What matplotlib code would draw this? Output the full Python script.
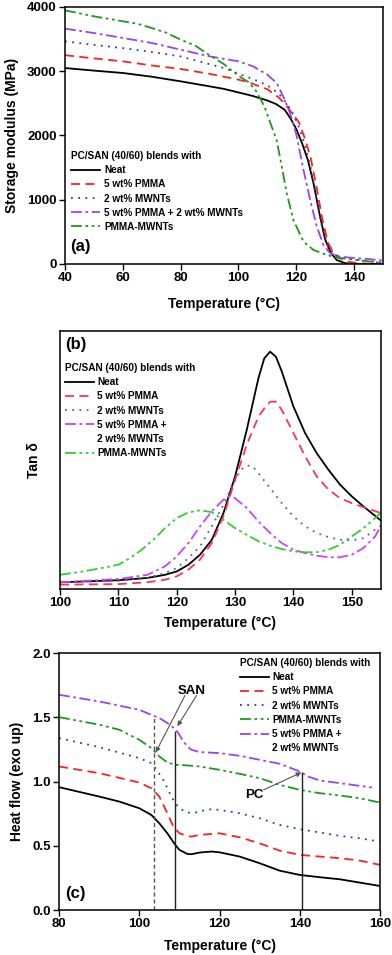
import matplotlib
matplotlib.use("Agg")
import matplotlib.pyplot as plt
from matplotlib.lines import Line2D

plt.rcParams['font.family'] = ['Liberation Sans', 'DejaVu Sans']
plt.rcParams['font.weight'] = 'bold'
plt.rcParams['axes.labelweight'] = 'bold'

# ---------------- Panel (a): storage modulus ----------------
a_neat_T = [40, 50, 60, 70, 80, 90, 95, 100, 105, 107.5, 110, 113, 116, 118, 120, 122, 124, 126, 128, 130, 132, 134, 137, 140, 145, 150]
a_neat = [3050, 3010, 2973, 2915, 2843, 2765, 2725, 2670, 2615, 2579, 2545, 2490, 2400, 2267, 2100, 1880, 1620, 1250, 790, 380, 170, 62, 12, 0, 0, 0]
a_pmma_T = [40, 50, 60, 70, 80, 90, 100, 103.5, 110, 114, 117, 119, 121, 123, 125, 127, 129, 131, 133, 135, 138, 141, 145, 150]
a_pmma = [3250, 3200, 3154, 3090, 3035, 2960, 2869, 2828, 2720, 2590, 2440, 2320, 2200, 1950, 1650, 1200, 700, 330, 160, 90, 35, 15, 5, 0]
a_mwnt_T = [40, 50, 60, 70, 80, 90, 95, 98, 100, 105, 110, 114, 117, 119, 121, 123, 125, 127, 129, 131, 133, 136, 140, 145, 150]
a_mwnt = [3466, 3410, 3360, 3300, 3230, 3110, 3050, 3000, 2960, 2880, 2780, 2650, 2480, 2330, 2120, 1850, 1500, 1000, 560, 280, 150, 100, 70, 45, 20]
a_both_T = [40, 50, 60, 70, 80, 90, 100, 105, 110, 113.3, 116, 118, 120, 122.5, 124.8, 127.1, 129.4, 131.7, 135, 140, 145, 150]
a_both = [3663, 3595, 3518, 3440, 3336, 3232, 3154, 3077, 2947, 2812, 2558, 2330, 2020, 1463, 996, 581, 296, 170, 115, 93, 78, 52]
a_pm_T = [40, 50, 60, 65, 70, 75, 80, 85, 90, 95, 98, 101, 103.5, 106, 107.5, 109, 111, 113.2, 115, 116.7, 119, 122.5, 126, 130.6, 135, 140, 145, 150]
a_pm = [3948, 3855, 3777, 3740, 3673, 3600, 3492, 3400, 3250, 3110, 3000, 2900, 2830, 2700, 2579, 2450, 2200, 1930, 1515, 1100, 685, 347, 218, 140, 93, 67, 42, 16]

# ---------------- Panel (b): tan delta ----------------
b_T = [100, 110, 115, 118, 120, 122, 124, 126, 128, 130, 132, 134, 135, 136, 137, 138, 140, 142, 144, 146, 148, 150, 152, 155]
b_neat = [0.026, 0.034, 0.043, 0.055, 0.068, 0.094, 0.133, 0.19, 0.294, 0.436, 0.617, 0.817, 0.894, 0.92, 0.90, 0.843, 0.707, 0.604, 0.526, 0.462, 0.404, 0.359, 0.32, 0.265]
b_pmma = [0.017, 0.019, 0.026, 0.036, 0.049, 0.075, 0.114, 0.178, 0.281, 0.423, 0.559, 0.668, 0.70, 0.726, 0.726, 0.694, 0.604, 0.514, 0.436, 0.385, 0.352, 0.333, 0.317, 0.294]
b_mwnt_T = [100, 110, 115, 118, 120, 122, 124, 126, 128, 130, 131, 132, 133, 134, 136, 138, 140, 142, 144, 146, 148, 150, 152, 154, 155]
b_mwnt = [0.026, 0.032, 0.043, 0.062, 0.081, 0.12, 0.165, 0.243, 0.326, 0.423, 0.462, 0.479, 0.475, 0.449, 0.391, 0.333, 0.281, 0.243, 0.217, 0.201, 0.191, 0.188, 0.197, 0.23, 0.245]
b_both_T = [100, 110, 115, 118, 120, 122, 124, 126, 128, 129, 130, 132, 134, 136, 138, 140, 142, 144, 146, 148, 150, 152, 154, 155]
b_both = [0.026, 0.039, 0.055, 0.088, 0.126, 0.178, 0.243, 0.301, 0.346, 0.359, 0.352, 0.314, 0.262, 0.217, 0.178, 0.152, 0.139, 0.129, 0.123, 0.123, 0.133, 0.159, 0.204, 0.245]
b_pm_T = [100, 104, 108, 110, 112, 114, 116, 118, 120, 122, 124, 126, 128, 130, 132, 134, 136, 138, 140, 142, 144, 146, 148, 150, 152, 154, 155]
b_pm = [0.055, 0.068, 0.085, 0.094, 0.12, 0.152, 0.191, 0.236, 0.275, 0.297, 0.305, 0.298, 0.268, 0.236, 0.21, 0.185, 0.168, 0.155, 0.146, 0.142, 0.143, 0.152, 0.172, 0.204, 0.236, 0.275, 0.297]

# ---------------- Panel (c): DSC heat flow ----------------
c_neat_T = [80, 90, 95, 100, 103, 105, 107, 109, 110, 112, 113, 115, 118, 120, 125, 130, 135, 140, 145, 150, 155, 160]
c_neat = [0.956, 0.883, 0.844, 0.792, 0.74, 0.675, 0.597, 0.506, 0.468, 0.436, 0.434, 0.447, 0.455, 0.449, 0.416, 0.364, 0.306, 0.273, 0.255, 0.239, 0.213, 0.187]
c_pmma_T = [80, 90, 100, 103, 105, 107, 108.5, 110, 112, 113, 115, 120, 125, 130, 135, 140, 145, 150, 155, 160]
c_pmma = [1.117, 1.065, 0.992, 0.948, 0.883, 0.753, 0.649, 0.597, 0.577, 0.571, 0.584, 0.597, 0.566, 0.519, 0.462, 0.429, 0.416, 0.403, 0.384, 0.351]
c_mwnt_T = [80, 90, 100, 103, 104, 106, 108, 109, 110, 112, 114, 116, 118, 120, 125, 130, 135, 140, 145, 150, 155, 160]
c_mwnt = [1.338, 1.268, 1.182, 1.143, 1.104, 1.013, 0.883, 0.831, 0.792, 0.758, 0.758, 0.774, 0.784, 0.779, 0.753, 0.714, 0.662, 0.629, 0.603, 0.577, 0.558, 0.532]
c_pm_T = [80, 90, 95, 100, 103, 105, 107, 109, 112, 115, 120, 125, 130, 135, 140, 145, 150, 155, 160]
c_pm = [1.501, 1.442, 1.403, 1.325, 1.26, 1.195, 1.148, 1.13, 1.125, 1.117, 1.091, 1.06, 1.026, 0.974, 0.935, 0.909, 0.891, 0.87, 0.836]
c_both_T = [80, 90, 100, 103, 105, 107, 109, 110, 111, 112, 113, 115, 120, 125, 130, 135, 140, 142, 145, 150, 155, 158]
c_both = [1.675, 1.623, 1.558, 1.519, 1.494, 1.455, 1.408, 1.364, 1.312, 1.273, 1.247, 1.229, 1.221, 1.2, 1.169, 1.138, 1.078, 1.039, 1.008, 0.987, 0.966, 0.953]

legend_title = "PC/SAN (40/60) blends with"

W, H = 392, 955
fig = plt.figure(figsize=(W / 100, H / 100), dpi=100)

def add_ax(l, r, t, b):
    return fig.add_axes([l / W, 1 - b / H, (r - l) / W, (b - t) / H])

def style_ax(ax):
    for s in ax.spines.values():
        s.set_linewidth(1.1)
    ax.tick_params(direction='out', length=4, width=1.0, labelsize=9.5, pad=2)

lw = 1.3
K = 'black'
R_a, B_a, P_a, G_a = '#ff2020', '#2a3fa0', '#a040f0', '#1a9a1a'
R_b, B_b, P_b, G_b = '#ff3355', '#5060b0', '#cc44ee', '#33cc33'

ls_dash = (0, (5, 3))
ls_dot = (0, (1, 3))
ls_dd = (0, (6, 2, 1.5, 2))
ls_ddd = (0, (6, 2, 1.5, 2, 1.5, 2))

LEG = dict(loc='upper left', frameon=False, alignment='left', fontsize=7.2, title_fontsize=7.2,
           handlelength=2.9, labelspacing=0.42, borderpad=0, borderaxespad=0)

# ---- (a)
ax = add_ax(65, 383, 7, 264)
ax.plot(a_neat_T, a_neat, color=K, lw=lw, ls='-', label='Neat')
ax.plot(a_pmma_T, a_pmma, color=R_a, lw=lw, ls=ls_dash, label='5 wt% PMMA')
ax.plot(a_mwnt_T, a_mwnt, color=B_a, lw=lw, ls=ls_dot, label='2 wt% MWNTs')
ax.plot(a_both_T, a_both, color=P_a, lw=lw, ls=ls_dd, label='5 wt% PMMA + 2 wt% MWNTs')
ax.plot(a_pm_T, a_pm, color=G_a, lw=lw, ls=ls_ddd, label='PMMA-MWNTs')
ax.set_xlim(40, 150)
ax.set_ylim(0, 4000)
ax.set_xticks([40, 60, 80, 100, 120, 140])
ax.set_yticks([0, 1000, 2000, 3000, 4000])
style_ax(ax)
ax.set_xlabel('Temperature (\u00b0C)', fontsize=10, labelpad=9)
ax.set_ylabel('Storage modulus (MPa)', fontsize=10, labelpad=6)
leg = ax.legend(bbox_to_anchor=(6 / 318, (264 - 151) / 257), title=legend_title,
                handletextpad=0.4, **LEG)
leg.get_title().set_fontweight('bold')
ax.text(0.016, 0.04, '(a)', transform=ax.transAxes, fontsize=12, fontweight='bold', va='bottom', ha='left')

# ---- (b)
ax = add_ax(60, 381, 331, 589)
ax.plot(b_T, b_neat, color=K, lw=lw, ls='-', label='Neat')
ax.plot(b_T, b_pmma, color=R_b, lw=lw, ls=ls_dash, label='5 wt% PMMA')
ax.plot(b_mwnt_T, b_mwnt, color=B_b, lw=lw, ls=ls_dot, label='2 wt% MWNTs')
ax.plot(b_both_T, b_both, color=P_b, lw=lw, ls=ls_dd, label='5 wt% PMMA +')
ax.plot(b_pm_T, b_pm, color=G_b, lw=lw, ls=ls_ddd, label='PMMA-MWNTs')
ax.set_xlim(100, 155)
ax.set_ylim(0, 1)
ax.set_xticks([100, 110, 120, 130, 140, 150])
ax.set_yticks([])
style_ax(ax)
ax.set_xlabel('Temperature (\u00b0C)', fontsize=10, labelpad=5)
ax.set_ylabel('Tan \u03b4', fontsize=10, labelpad=14)
h, l = ax.get_legend_handles_labels()
blank = Line2D([], [], color='none')
h = h[:4] + [blank] + h[4:]
l = l[:4] + ['2 wt% MWNTs'] + l[4:]
leg = ax.legend(h, l, bbox_to_anchor=(5 / 321, (589 - 363) / 258), title=legend_title,
                handletextpad=0.3, **LEG)
leg.get_title().set_fontweight('bold')
ax.text(0.016, 0.975, '(b)', transform=ax.transAxes, fontsize=12, fontweight='bold', va='top', ha='left')

# ---- (c)
ax = add_ax(59, 380, 653, 910)
ax.plot(c_neat_T, c_neat, color=K, lw=lw, ls='-', label='Neat')
ax.plot(c_pmma_T, c_pmma, color=R_a, lw=lw, ls=ls_dash, label='5 wt% PMMA')
ax.plot(c_mwnt_T, c_mwnt, color=B_a, lw=lw, ls=ls_dot, label='2 wt% MWNTs')
ax.plot(c_pm_T, c_pm, color=G_a, lw=lw, ls=ls_ddd, label='PMMA-MWNTs')
ax.plot(c_both_T, c_both, color=P_a, lw=lw, ls=ls_dd, label='5 wt% PMMA +')
ax.vlines(103.6, 0, 1.51, color='#555555', lw=1.0, ls=(0, (3, 2)))
ax.vlines(108.9, 0, 1.395, color='#222222', lw=1.0)
ax.vlines(140.6, 0, 1.075, color='#222222', lw=1.0)
arrowp = dict(arrowstyle='-|>', color='#555555', lw=0.8, mutation_scale=7, shrinkA=0, shrinkB=0)
ax.annotate('', xy=(104.1, 1.226), xytext=(111.4, 1.67), arrowprops=arrowp)
ax.annotate('', xy=(109.5, 1.43), xytext=(114.3, 1.67), arrowprops=arrowp)
ax.text(113.0, 1.706, 'SAN', fontsize=9.5, fontweight='bold', ha='center', va='center')
ax.annotate('', xy=(140.4, 1.07), xytext=(131.0, 0.935), arrowprops=arrowp)
ax.text(128.6, 0.896, 'PC', fontsize=9.5, fontweight='bold', ha='center', va='center')
ax.set_xlim(80, 160)
ax.set_ylim(0, 2.0)
ax.set_xticks([80, 100, 120, 140, 160])
ax.set_yticks([0.0, 0.5, 1.0, 1.5, 2.0])
ax.yaxis.set_major_formatter(matplotlib.ticker.FormatStrFormatter('%.1f'))
style_ax(ax)
ax.set_xlabel('Temperature (\u00b0C)', fontsize=10, labelpad=6)
ax.set_ylabel('Heat flow (exo up)', fontsize=10, labelpad=6)
h, l = ax.get_legend_handles_labels()
h = h + [blank]
l = l + ['2 wt% MWNTs']
leg = ax.legend(h, l, bbox_to_anchor=(181 / 321, (910 - 658) / 257), title=legend_title,
                handletextpad=0.3, **LEG)
leg.get_title().set_fontweight('bold')
ax.text(0.02, 0.035, '(c)', transform=ax.transAxes, fontsize=12, fontweight='bold', va='bottom', ha='left')

fig.savefig('out.png', dpi=100)
